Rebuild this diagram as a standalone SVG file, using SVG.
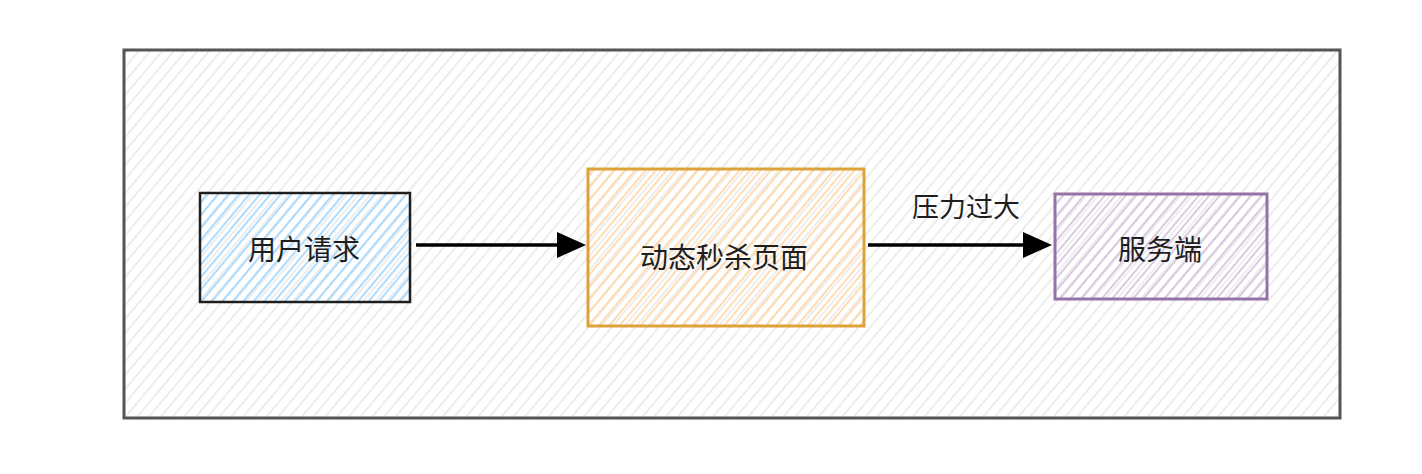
<svg xmlns="http://www.w3.org/2000/svg" width="1422" height="474" viewBox="0 0 1422 474">
<style>
.t{font-family:"Noto Sans CJK SC","Noto Sans",sans-serif;font-size:28px;fill:#1e1e1e;text-anchor:middle;dominant-baseline:central}
.e{stroke:#000;stroke-width:3.5;fill:none}
</style>
<defs>
<pattern id="hg" width="9" height="9" patternUnits="userSpaceOnUse" patternTransform="rotate(-50)"><line x1="0" y1="4" x2="9" y2="4" stroke="#e6e6e6" stroke-width="1.4"/></pattern>
<pattern id="hb" width="8" height="8" patternUnits="userSpaceOnUse" patternTransform="rotate(-50)"><line x1="0" y1="4" x2="8" y2="4" stroke="#a5d8ff" stroke-width="1.8"/></pattern>
<pattern id="ho" width="8" height="8" patternUnits="userSpaceOnUse" patternTransform="rotate(-50)"><line x1="0" y1="4" x2="8" y2="4" stroke="#ffd8a8" stroke-width="1.8"/></pattern>
<pattern id="hp" width="8" height="8" patternUnits="userSpaceOnUse" patternTransform="rotate(-50)"><line x1="0" y1="4" x2="8" y2="4" stroke="#d6c4df" stroke-width="1.8"/></pattern>
</defs>
<rect width="1422" height="474" fill="#fff"/>
<g id="frame">
<rect x="124" y="50" width="1216" height="368" fill="url(#hg)" stroke="#555" stroke-width="3"/>
</g>
<g id="connectors">
<line class="e" x1="416" y1="245" x2="560" y2="245"/>
<path d="M557,232 L586,245 L557,258 Z" fill="#000"/>
<line class="e" x1="868" y1="245" x2="1026" y2="245"/>
<path d="M1023,232 L1052,245 L1023,258 Z" fill="#000"/>
<text class="t" x="966" y="205" style="font-size:27px">压力过大</text>
</g>
<g id="n1">
<rect x="200" y="193" width="210" height="109" fill="url(#hb)" stroke="#1e1e1e" stroke-width="2.5"/>
<text class="t" x="304" y="248">用户请求</text>
</g>
<g id="n2">
<rect x="588" y="169" width="276" height="157" fill="url(#ho)" stroke="#dda23a" stroke-width="3"/>
<text class="t" x="724" y="256">动态秒杀页面</text>
</g>
<g id="n3">
<rect x="1055" y="194" width="212" height="105" fill="url(#hp)" stroke="#9673a6" stroke-width="3"/>
<text class="t" x="1160" y="248">服务端</text>
</g>
</svg>
